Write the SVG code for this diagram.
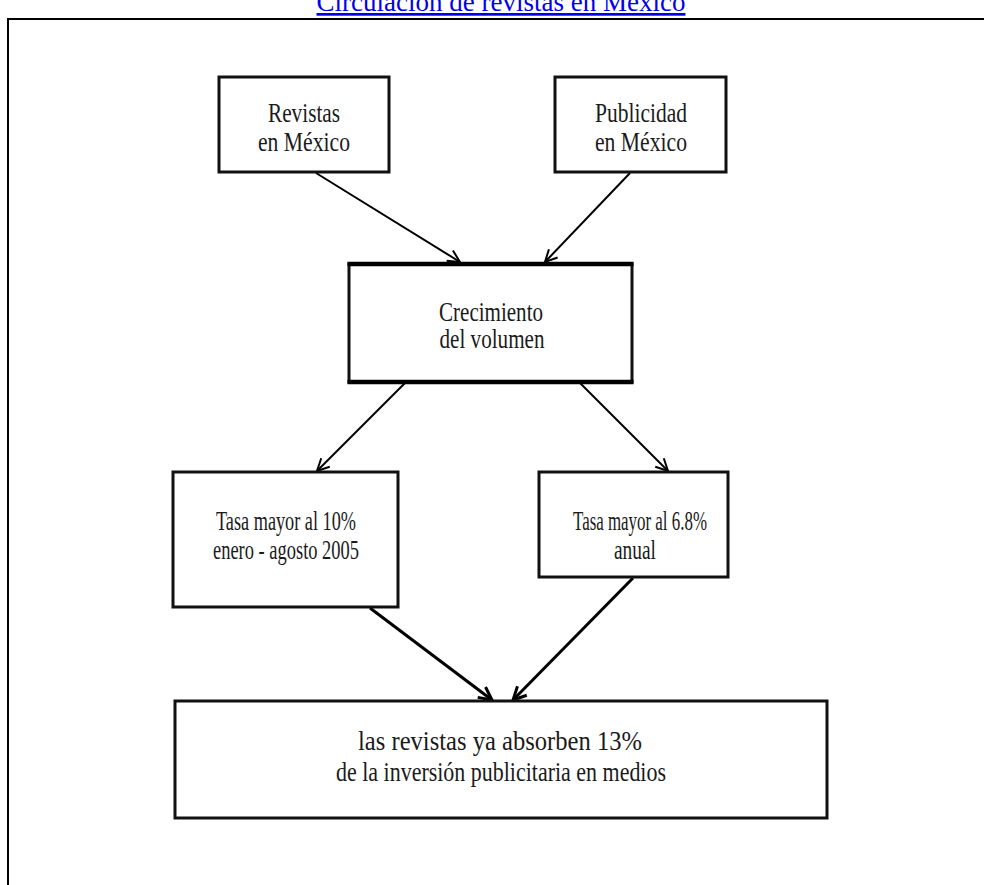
<svg xmlns="http://www.w3.org/2000/svg" width="984" height="885" viewBox="0 0 984 885">
  <defs>
    <style>
      .box { fill: #ffffff; stroke: #111111; stroke-width: 3; }
      .edge-heavy { fill: none; stroke: #000000; stroke-width: 4.5; }
      .label { font-family: "Liberation Serif", "Times New Roman", serif; font-size: 27px; fill: #1a1a1a; text-anchor: middle; }
      .title { font-family: "Liberation Serif", "Times New Roman", serif; font-size: 27px; fill: #0000ee; text-anchor: middle; text-decoration: underline; }
      .link { fill: none; stroke: #000000; stroke-width: 2; }
      .link-heavy { fill: none; stroke: #000000; stroke-width: 3; }
    </style>
    <marker id="arrow" markerUnits="userSpaceOnUse" viewBox="0 0 14 14" refX="13" refY="7" markerWidth="14" markerHeight="14" orient="auto">
      <path d="M1,1 L13,7 L1,13" fill="none" stroke="#000000" stroke-width="2"/>
    </marker>
    <marker id="arrow-heavy" markerUnits="userSpaceOnUse" viewBox="0 0 16 16" refX="14.5" refY="8" markerWidth="16" markerHeight="16" orient="auto">
      <path d="M1.5,1.5 L14.5,8 L1.5,14.5" fill="none" stroke="#000000" stroke-width="3"/>
    </marker>
  </defs>

  <rect width="984" height="885" fill="#ffffff"/>

  <!-- heading link -->
  <text class="title" x="501" y="11">Circulación de revistas en México</text>

  <!-- frame around the chart -->
  <path d="M8,885 L8,19 L984,19" fill="none" stroke="#000000" stroke-width="2"/>

  <g id="connectors">
    <line class="link" x1="316" y1="173" x2="460" y2="262" marker-end="url(#arrow)"/>
    <line class="link" x1="630" y1="173" x2="545" y2="262" marker-end="url(#arrow)"/>
    <line class="link" x1="405" y1="383" x2="317" y2="471" marker-end="url(#arrow)"/>
    <line class="link" x1="580" y1="383" x2="668" y2="471" marker-end="url(#arrow)"/>
    <line class="link-heavy" x1="370" y1="608" x2="492" y2="700" marker-end="url(#arrow-heavy)"/>
    <line class="link-heavy" x1="633" y1="578" x2="513" y2="700" marker-end="url(#arrow-heavy)"/>
  </g>

  <g id="revistas">
    <rect class="box" x="219" y="77" width="170" height="95"/>
    <text class="label" x="304" y="122" textLength="72" lengthAdjust="spacingAndGlyphs">Revistas</text>
    <text class="label" x="304" y="151" textLength="92" lengthAdjust="spacingAndGlyphs">en México</text>
  </g>

  <g id="publicidad">
    <rect class="box" x="555" y="77" width="171" height="95"/>
    <text class="label" x="641" y="122" textLength="92" lengthAdjust="spacingAndGlyphs">Publicidad</text>
    <text class="label" x="641" y="151" textLength="92" lengthAdjust="spacingAndGlyphs">en México</text>
  </g>

  <g id="crecimiento">
    <rect class="box" x="349" y="264" width="283" height="118"/>
    <path class="edge-heavy" d="M347.5,264 H633.5 M347.5,382 H633.5"/>
    <text class="label" x="491" y="321" textLength="104" lengthAdjust="spacingAndGlyphs">Crecimiento</text>
    <text class="label" x="492" y="348" textLength="105" lengthAdjust="spacingAndGlyphs">del volumen</text>
  </g>

  <g id="tasa-10">
    <rect class="box" x="173" y="472" width="225" height="135"/>
    <text class="label" x="286" y="530" textLength="140" lengthAdjust="spacingAndGlyphs">Tasa mayor al 10%</text>
    <text class="label" x="286" y="559" textLength="146" lengthAdjust="spacingAndGlyphs">enero - agosto 2005</text>
  </g>

  <g id="tasa-68">
    <rect class="box" x="539" y="472" width="189" height="105"/>
    <text class="label" x="640" y="530" textLength="134" lengthAdjust="spacingAndGlyphs">Tasa mayor al 6.8%</text>
    <text class="label" x="635" y="559" textLength="42" lengthAdjust="spacingAndGlyphs">anual</text>
  </g>

  <g id="inversion">
    <rect class="box" x="175" y="701" width="652" height="117"/>
    <text class="label" x="500" y="750" textLength="284" lengthAdjust="spacingAndGlyphs">las revistas ya absorben 13%</text>
    <text class="label" x="501" y="781" textLength="330" lengthAdjust="spacingAndGlyphs">de la inversión publicitaria en medios</text>
  </g>
</svg>
